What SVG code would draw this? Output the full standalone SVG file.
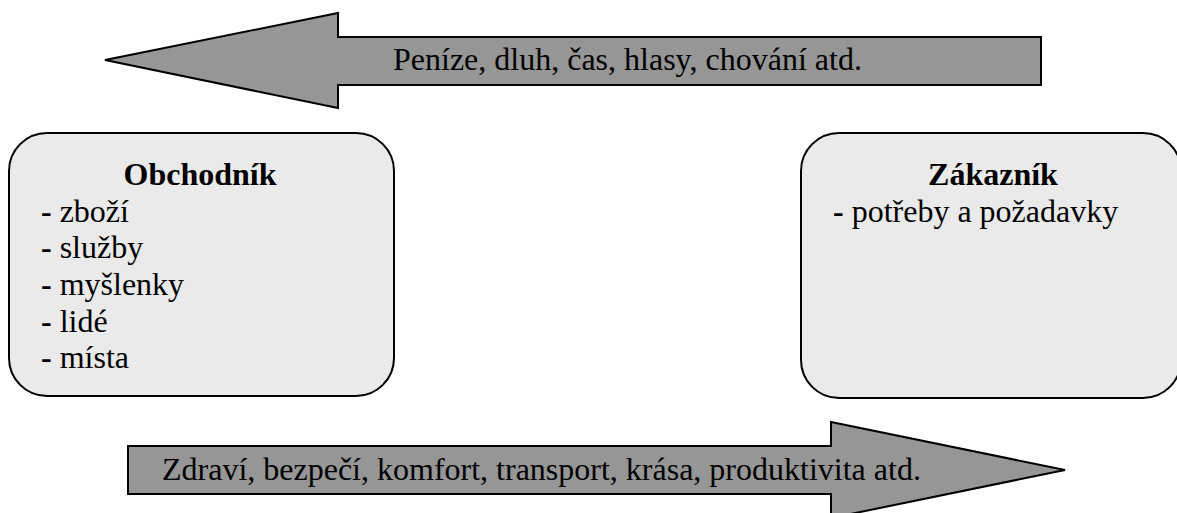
<svg xmlns="http://www.w3.org/2000/svg" width="1177" height="513" viewBox="0 0 1177 513">
  <style>
    .arrow { fill: #969696; stroke: #000; stroke-width: 2; stroke-linejoin: miter; }
    .box { fill: #eaeaea; stroke: #000; stroke-width: 2; }
    .title { font-weight: bold; text-anchor: middle; }
    .dash { font-weight: bold; }
  </style>
  <rect width="1177" height="513" fill="#fff"/>

  <g font-family="Liberation Serif, DejaVu Serif, serif" font-size="32" fill="#000">
  <g id="connectors">
    <g id="flow-back">
      <polygon class="arrow" points="105,60 338,13 338,37 1041,37 1041,85 338,85 338,108"/>
      <text x="393" y="70">Peníze, dluh, čas, hlasy, chování atd.</text>
    </g>
    <g id="flow-forward">
      <polygon class="arrow" points="128,446 831,446 831,422 1065,470 831,518 831,494 128,494"/>
      <text x="162" y="480">Zdraví, bezpečí, komfort, transport, krása, produktivita atd.</text>
    </g>
  </g>

  <g id="obchodnik">
    <rect class="box" x="9" y="133" width="385" height="263" rx="38" ry="38"/>
    <text class="title" x="200" y="185">Obchodník</text>
    <text x="41" y="222"><tspan class="dash">-</tspan> zboží</text>
    <text x="41" y="258"><tspan class="dash">-</tspan> služby</text>
    <text x="41" y="295"><tspan class="dash">-</tspan> myšlenky</text>
    <text x="41" y="332"><tspan class="dash">-</tspan> lidé</text>
    <text x="41" y="368"><tspan class="dash">-</tspan> místa</text>
  </g>

  <g id="zakaznik">
    <rect class="box" x="801" y="133" width="380" height="265" rx="38" ry="38"/>
    <text class="title" x="993" y="185">Zákazník</text>
    <text x="833" y="222"><tspan class="dash">-</tspan> potřeby a požadavky</text>
  </g>
  </g>
</svg>
